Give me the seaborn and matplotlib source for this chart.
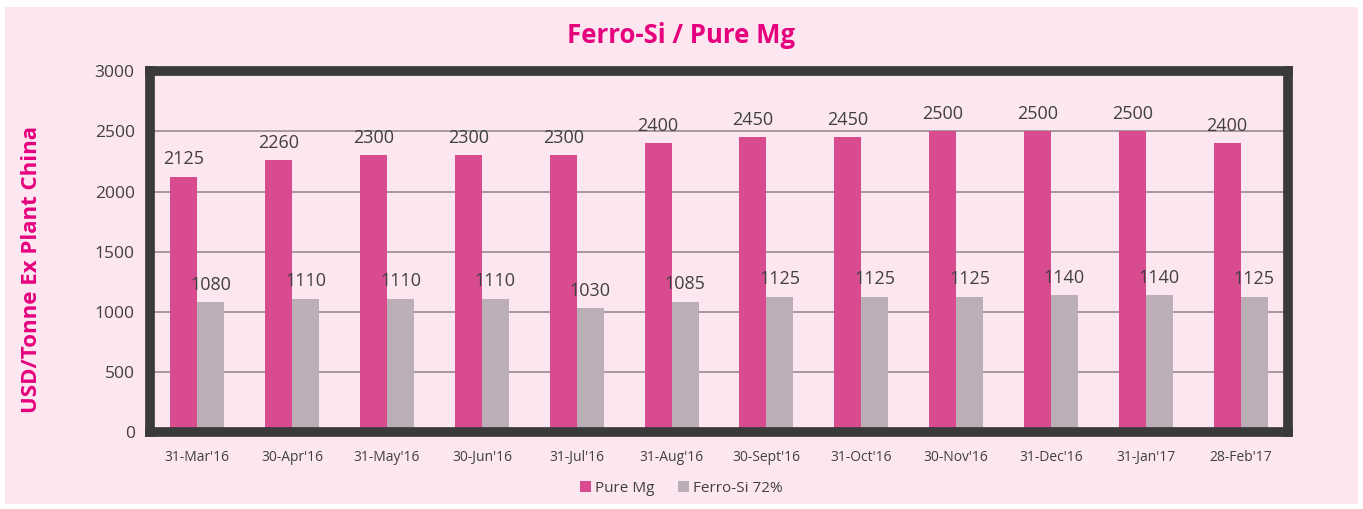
import pandas as pd
import matplotlib.pyplot as plt
import matplotlib.patches as patches
import seaborn as sns

# Chart values
dates = ["31-Mar'16", "30-Apr'16", "31-May'16", "30-Jun'16", "31-Jul'16", "31-Aug'16",
         "30-Sept'16", "31-Oct'16", "30-Nov'16", "31-Dec'16", "31-Jan'17", "28-Feb'17"]
pure_mg = [2125, 2260, 2300, 2300, 2300, 2400, 2450, 2450, 2500, 2500, 2500, 2400]
ferro_si = [1080, 1110, 1110, 1110, 1030, 1085, 1125, 1125, 1125, 1140, 1140, 1125]
series_names = ["Pure Mg", "Ferro-Si 72%"]

BG = '#FCE6F0'
MAGENTA = '#E6007E'
TEXT = '#404040'

df = pd.DataFrame({
    'Date': dates * 2,
    'Value': pure_mg + ferro_si,
    'Series': [series_names[0]] * len(dates) + [series_names[1]] * len(dates),
})

sns.set_style('white')
plt.rcParams['font.family'] = ['Open Sans', 'DejaVu Sans']

fig = plt.figure(figsize=(13.63, 5.09), dpi=100)
fig.patch.set_facecolor('white')
fig.patches.append(patches.Rectangle((5 / 1363, 5 / 509), 1353 / 1363, 497 / 509,
                                     transform=fig.transFigure, facecolor=BG,
                                     edgecolor='none', zorder=-10))

ax = fig.add_axes([0.110, 0.151, 0.835, 0.709])
ax.set_facecolor(BG)

sns.barplot(data=df, x='Date', y='Value', hue='Series', order=dates,
            hue_order=series_names, palette=['#D84C8F', '#BBAEB6'],
            width=0.57, gap=0, saturation=1, linewidth=0, ax=ax, legend=True)

for container in ax.containers:
    ax.bar_label(container, labels=[f'{v:.0f}' for v in container.datavalues],
                 padding=6, fontsize=13, color=TEXT)

ax.set_ylim(0, 3000)
ax.set_xlim(-0.5, len(dates) - 0.5)
ax.set_yticks(range(0, 3001, 500))
ax.yaxis.grid(True, color='#8E8488', linewidth=1.1)
ax.set_axisbelow(True)

for s in ax.spines.values():
    s.set_visible(True)
    s.set_color('#3A3A3A')
    s.set_linewidth(7)

ax.tick_params(axis='y', labelsize=12.5, colors=TEXT, length=3, width=1, pad=8)
ax.tick_params(axis='x', which='major', labelsize=10, colors=TEXT, length=0, pad=13)
ax.set_xticks([i - 0.5 for i in range(len(dates) + 1)], minor=True)
ax.tick_params(axis='x', which='minor', length=4, width=1, color='#707070')

ax.set_xlabel('')
ax.set_ylabel('USD/Tonne Ex Plant China', fontsize=16, fontweight='bold',
              color=MAGENTA)
ax.yaxis.set_label_coords(-0.095, 0.45)
fig.text(0.5, 0.93, 'Ferro-Si / Pure Mg', ha='center', va='center',
         fontsize=18.5, fontweight='bold', color=MAGENTA)

handles, labels = ax.get_legend_handles_labels()
ax.legend(handles, labels, loc='center', bbox_to_anchor=(0.467, -0.155), ncol=2,
          frameon=False, fontsize=11, handlelength=0.7, handleheight=0.7,
          handletextpad=0.3, columnspacing=1.5, labelcolor=TEXT)

fig.savefig('out.png', dpi=100)
